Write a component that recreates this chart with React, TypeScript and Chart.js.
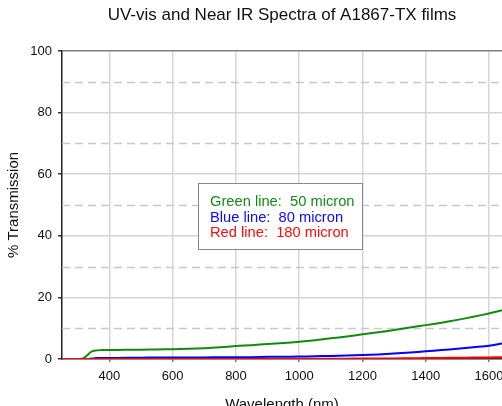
import React, { useEffect, useRef } from "react";
import { Chart, registerables } from "chart.js";

Chart.register(...registerables);

const chartTitle = "UV-vis and Near IR Spectra of A1867-TX films";
const xTitle = "Wavelength (nm)";
const yTitle = "% Transmission";

const wavelengths = [250, 300, 310, 320, 330, 340, 350, 360, 380, 400, 450, 500, 550, 600, 650, 700, 750, 800, 850, 900, 950, 1000, 1050, 1100, 1150, 1200, 1250, 1300, 1350, 1400, 1450, 1500, 1550, 1600, 1641];
const green50 = [0, 0, 0.1, 0.4, 1.2, 2.2, 2.7, 2.8, 2.9, 2.9, 3.0, 3.0, 3.1, 3.2, 3.3, 3.5, 3.8, 4.2, 4.5, 4.9, 5.2, 5.6, 6.1, 6.7, 7.3, 8.0, 8.7, 9.4, 10.2, 11.0, 11.8, 12.7, 13.7, 14.8, 15.8];
const blue80 = [0, 0, 0, 0, 0, 0.1, 0.2, 0.3, 0.3, 0.3, 0.4, 0.4, 0.5, 0.5, 0.5, 0.5, 0.6, 0.6, 0.6, 0.7, 0.7, 0.8, 0.9, 1.0, 1.1, 1.3, 1.5, 1.8, 2.1, 2.5, 2.9, 3.3, 3.8, 4.3, 5.0];
const red180 = [0, 0, 0, 0, 0, 0, 0, 0, 0, 0, 0, 0, 0, 0.02, 0.02, 0.03, 0.03, 0.04, 0.04, 0.05, 0.05, 0.05, 0.07, 0.1, 0.12, 0.15, 0.17, 0.2, 0.25, 0.3, 0.35, 0.4, 0.45, 0.5, 0.6];

const xTicks = [400, 600, 800, 1000, 1200, 1400, 1600];
const yTicks = [0, 20, 40, 60, 80, 100];
const yMinorTicks = [10, 30, 50, 70, 90];

const legendLines = [
  { text: "Green line:  50 micron", color: "#168a16" },
  { text: "Blue line:  80 micron", color: "#0a0aff" },
  { text: "Red line:  180 micron", color: "#ff0a0a" },
];

const FONT = "'Liberation Sans', Arial, sans-serif";

const toPoints = (ys: number[]) => wavelengths.map((x, i) => ({ x, y: ys[i] }));

const extrasPlugin = {
  id: "extras",
  beforeDatasetsDraw(chart: any) {
    const { ctx, chartArea, scales } = chart;
    ctx.save();
    ctx.strokeStyle = "#c8c8c8";
    ctx.lineWidth = 1.5;
    ctx.setLineDash([8, 5]);
    yMinorTicks.forEach((v) => {
      const y = Math.round(scales.y.getPixelForValue(v)) + 0.5;
      ctx.beginPath();
      ctx.moveTo(chartArea.left, y);
      ctx.lineTo(chartArea.right, y);
      ctx.stroke();
    });
    ctx.restore();
  },
  afterDatasetsDraw(chart: any) {
    const { ctx } = chart;
    ctx.save();
    const left = 198, top = 183, w = 164, h = 66;
    ctx.fillStyle = "#ffffff";
    ctx.fillRect(left, top, w, h);
    ctx.strokeStyle = "#8a8a8a";
    ctx.lineWidth = 1;
    ctx.strokeRect(left + 0.5, top + 0.5, w, h);
    ctx.font = `14.7px ${FONT}`;
    ctx.textBaseline = "middle";
    ctx.textAlign = "left";
    legendLines.forEach((l, i) => {
      ctx.fillStyle = l.color;
      ctx.fillText(l.text, 210, 202 + i * 15.5);
    });
    ctx.restore();
  },
};

export default function App() {
  const ref = useRef<HTMLCanvasElement | null>(null);
  useEffect(() => {
    if (!ref.current) return;
    const chart = new Chart(ref.current, {
      type: "line",
      data: {
        datasets: [
          { label: "Red", data: toPoints(red180), borderColor: "#ff0000", borderWidth: 2, pointRadius: 0, tension: 0.3 },
          { label: "Blue", data: toPoints(blue80), borderColor: "#0000ff", borderWidth: 2, pointRadius: 0, tension: 0.3 },
          { label: "Green", data: toPoints(green50), borderColor: "#108a10", borderWidth: 2, pointRadius: 0, tension: 0.3 },
        ],
      },
      options: {
        animation: false,
        responsive: false,
        layout: { padding: 0 },
        plugins: {
          legend: { display: false },
          tooltip: { enabled: false },
          title: {
            display: true,
            text: chartTitle,
            fullSize: false,
            color: "#111",
            font: { family: FONT, size: 17, weight: "normal" },
            padding: { top: 5.5, bottom: 25.1 },
          },
        },
        scales: {
          x: {
            type: "linear",
            min: 250,
            max: 1641,
            afterBuildTicks: (s: any) => { s.ticks = xTicks.map((v) => ({ value: v })); },
            afterFit: (s: any) => { s.height = 416 - 359; s.paddingLeft = 0; s.paddingRight = 0; },
            ticks: { color: "#111", font: { family: FONT, size: 13 }, padding: 7, maxRotation: 0, autoSkip: false, callback: (v: any) => String(v) },
            grid: { color: "#d6d6d6", lineWidth: 1.5, drawTicks: true, tickLength: 3, tickColor: "#777" },
            border: { display: true, color: "#333", width: 1.5 },
            title: { display: true, text: xTitle, color: "#111", font: { family: FONT, size: 15 }, padding: { top: 0, bottom: 2.5 } },
          },
          y: {
            min: 0,
            max: 100,
            afterBuildTicks: (s: any) => { s.ticks = yTicks.map((v) => ({ value: v })); },
            afterFit: (s: any) => { s.width = 62; s.paddingTop = 0; s.paddingBottom = 0; },
            ticks: { color: "#111", font: { family: FONT, size: 13 }, padding: 6, callback: (v: any) => String(v) },
            grid: {
              color: (c: any) => (c.tick && c.tick.value === 100 ? "#808080" : "#d4d4d4"),
              lineWidth: 1.5,
              tickLength: 4,
              tickColor: "#333",
            },
            border: { display: true, color: "#222", width: 1.5 },
            title: { display: true, text: yTitle, color: "#111", font: { family: FONT, size: 15 }, padding: { top: 5, bottom: 0 } },
          },
        },
      },
      plugins: [extrasPlugin],
    });
    return () => chart.destroy();
  }, []);
  return (
    <div style={{ position: "fixed", left: 0, top: 0, width: 502, height: 416, overflow: "hidden", background: "#fff" }}>
      <canvas ref={ref} width={502} height={416} style={{ display: "block" }} />
    </div>
  );
}
